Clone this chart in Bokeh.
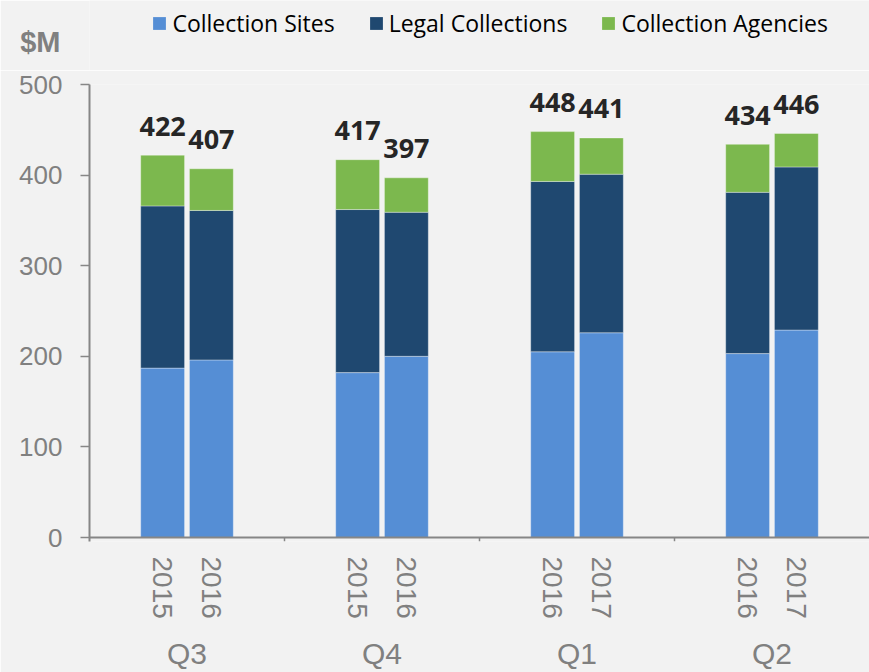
import math
from bokeh.plotting import figure
from bokeh.layouts import column
from bokeh.models import (FactorRange, Range1d, CategoricalAxis, FixedTicker,
                          Legend, LegendItem, Span, ColumnDataSource)
from bokeh.core.properties import value
from bokeh.embed import file_html
from bokeh.resources import INLINE

quarters = ["Q3", "Q3", "Q4", "Q4", "Q1", "Q1", "Q2", "Q2"]
years = ["2015", "2016", "2015", "2016", "2016", "2017", "2016", "2017"]
collection_sites = [187, 196, 182, 200, 205, 226, 203, 229]
legal_collections = [179, 165, 180, 159, 188, 175, 178, 180]
collection_agencies = [56, 46, 55, 38, 55, 40, 53, 37]
totals = [422, 407, 417, 397, 448, 441, 434, 446]
y_ticks = [0, 100, 200, 300, 400, 500]
series = ["Collection Sites", "Legal Collections", "Collection Agencies"]
colors = ["#558ed5", "#1f4870", "#7cb84e"]
unit_label = "$M"

BG = "#f2f2f2"
GREY = "#808080"
AXIS = "#868686"
W = 869
HEADER_H = 70
LEFT = 89

x = list(zip(quarters, years))
src = ColumnDataSource(data={
    "x": x,
    series[0]: collection_sites,
    series[1]: legal_collections,
    series[2]: collection_agencies,
    "total": totals,
    "label": [str(t) for t in totals],
})

# ---------- header: legend and unit label ----------
header = figure(width=W, height=HEADER_H, x_range=Range1d(0, W - LEFT),
                y_range=Range1d(0, HEADER_H),
                output_backend="svg", toolbar_location=None, title=None,
                x_axis_location=None, y_axis_location="left",
                min_border_left=LEFT, min_border_right=0, min_border_top=0, min_border_bottom=0,
                background_fill_color=BG, border_fill_color=BG, outline_line_color=None)
header.grid.grid_line_color = None
UNIT_Y = HEADER_H - 41
hy = header.yaxis[0]
hy.ticker = FixedTicker(ticks=[UNIT_Y])
hy.major_label_overrides = {UNIT_Y: unit_label}
hy.major_label_text_font = "Liberation Sans"
hy.major_label_text_font_style = "bold"
hy.major_label_text_font_size = "29px"
hy.major_label_text_color = GREY
hy.major_label_standoff = 29
hy.major_tick_out = 0
hy.major_tick_in = 0
hy.major_tick_line_color = None
hy.minor_tick_line_color = None
hy.axis_line_color = None

# zero-size proxies, only to give the legend its colour swatches
proxies = [header.vbar(x=[0], bottom=[0], top=[0], width=0, fill_color=c, line_color=None)
           for c in colors]
legend = Legend(items=[LegendItem(label=s, renderers=[r]) for s, r in zip(series, proxies)],
                orientation="horizontal", location=(151.4 - LEFT, HEADER_H - 39),
                label_text_font="Open Sans", label_text_font_size="23px",
                label_text_color="#000000",
                glyph_width=16, glyph_height=16, label_standoff=5, spacing=33,
                padding=0, margin=0, border_line_color=None,
                background_fill_alpha=0)
header.add_layout(legend, "center")

# ---------- main chart ----------
GROUP_PAD = 2
PAD = 1.0
xr = FactorRange(*x, group_padding=GROUP_PAD, factor_padding=0,
                 range_padding=PAD, range_padding_units="absolute")
n_groups = len(dict.fromkeys(quarters))
per_group = len(x) // n_groups
Y_LOW = -4.4   # room below zero for the small boundary ticks

p = figure(x_range=xr, y_range=Range1d(Y_LOW, 500), width=W, height=672 - HEADER_H,
           output_backend="svg", toolbar_location=None, title=None,
           x_axis_location=None, y_axis_location="left",
           min_border_left=LEFT, min_border_right=0, min_border_top=84 - HEADER_H,
           min_border_bottom=130,
           background_fill_color=BG, border_fill_color=BG, outline_line_color=None)
p.grid.grid_line_color = None

rs = p.vbar_stack(series, x="x", width=0.9, color=colors, source=src,
                  line_color="white", line_alpha=0.35, line_width=1)

p.text(x="x", y="total", text="label", source=src,
       text_font=value("Open Sans"), text_font_style="bold",
       text_font_size="27px", text_color="#262626",
       text_align="center", text_baseline="alphabetic", y_offset=-29)

# x axis line and small ticks between quarter groups
p.add_layout(Span(location=0, dimension="width", line_color=AXIS, line_width=2))
boundaries = [per_group * (i + 1) + GROUP_PAD * i + GROUP_PAD / 2 for i in range(n_groups - 1)]
p.segment(x0=boundaries, x1=boundaries, y0=[0] * len(boundaries), y1=[Y_LOW] * len(boundaries),
          line_color=AXIS, line_width=1.5)

# y axis
ya = p.yaxis[0]
ya.ticker = FixedTicker(ticks=y_ticks)
ya.major_label_text_font = "Liberation Sans"
ya.major_label_text_font_size = "26px"
ya.major_label_text_color = GREY
ya.major_label_standoff = 18
ya.major_tick_out = 9
ya.major_tick_in = 0
ya.minor_tick_line_color = None
ya.axis_line_color = AXIS
ya.axis_line_width = 2
ya.major_tick_line_color = AXIS
ya.major_tick_line_width = 1.5

cat = CategoricalAxis(axis_line_color=None,
                      major_tick_line_color=None, major_tick_out=0, major_tick_in=0,
                      minor_tick_line_color=None,
                      major_label_orientation=-math.pi / 2,
                      major_label_standoff=15,
                      major_label_text_font="Liberation Sans",
                      major_label_text_font_size="28px",
                      major_label_text_color=GREY,
                      group_text_font="Liberation Sans",
                      group_text_font_size="30px",
                      group_text_font_style="normal",
                      group_text_color=GREY,
                      separator_line_color=None)
p.add_layout(cat, "below")

layout = column(header, p, spacing=0)
open("out.html", "w").write(file_html(layout, INLINE))
